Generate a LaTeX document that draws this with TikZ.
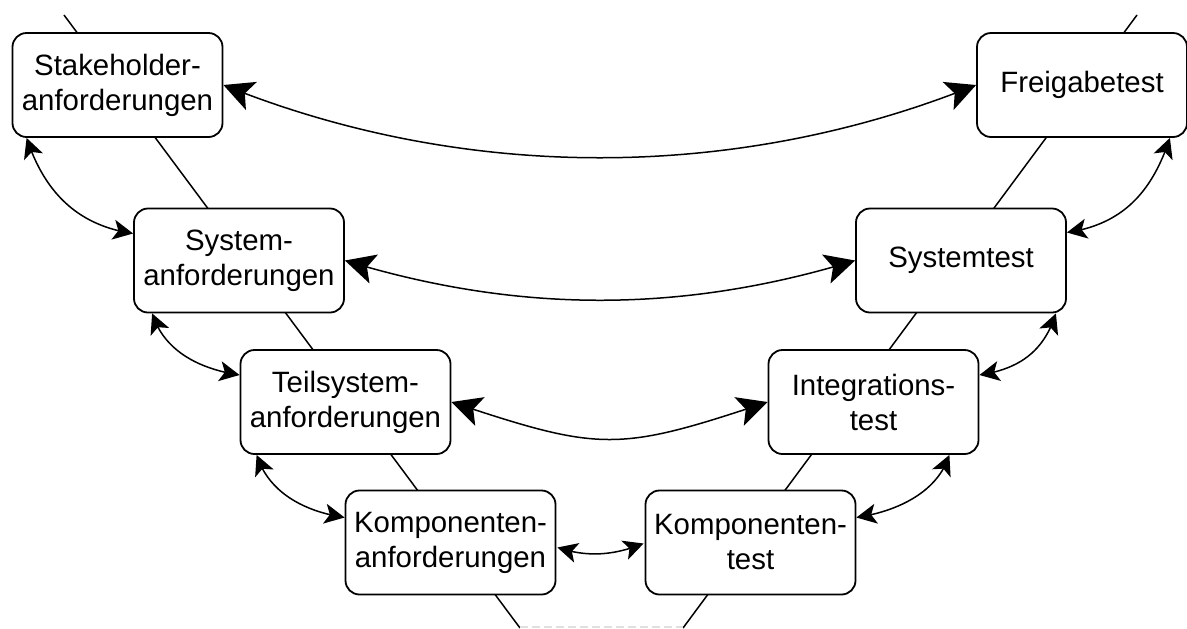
\documentclass[tikz,border=0pt]{standalone}
\usepackage{fontspec}
\setmainfont{Liberation Sans}
\usetikzlibrary{arrows.meta,bending,calc}

\tikzset{
  stage/.style={draw, line width=0.9pt, rounded corners=7pt, fill=white,
    minimum width=105pt, minimum height=52pt, inner sep=0pt, align=center,
    font=\fontsize{14.7pt}{17.5pt}\selectfont},
  vline/.style={line width=0.75pt},
  bigarrow/.style={line width=0.75pt,
    {Stealth[length=15pt,width=15pt,inset=3.5pt]}-{Stealth[length=15pt,width=15pt,inset=3.5pt]}},
  smallarrow/.style={line width=0.75pt,
    {Stealth[length=10pt,width=10pt,inset=2.5pt]}-{Stealth[length=10pt,width=10pt,inset=2.5pt]}},
  cutline/.style={line width=0.75pt, draw=black!12, dash pattern=on 4pt off 2pt}
}

\begin{document}
\begin{tikzpicture}[x=0.5pt,y=-0.5pt]
  \useasboundingbox (0,0) rectangle (1187,628);

  % the two legs of the V behind the stages
  \coordinate (vtl) at (64,15);
  \coordinate (vbl) at (520,628);
  \coordinate (vtr) at (1137,15);
  \coordinate (vbr) at (683,628);
  \draw[vline] (vtl) -- (vbl);
  \draw[vline] (vtr) -- (vbr);
  \coordinate (cutl) at (520,627);
  \coordinate (cutr) at (683,627);
  \draw[cutline] (cutl) -- (cutr);

  % specification side
  \node[stage] (sh) at (117.5,85) {Stakeholder-\\anforderungen};
  \node[stage] (sa) at (239,260.5) {System-\\anforderungen};
  \node[stage] (ta) at (345.5,402) {Teilsystem-\\anforderungen};
  \node[stage] (ka) at (450.5,542.5) {Komponenten-\\anforderungen};

  % test side
  \node[stage] (fg) at (1082,85) {Freigabetest};
  \node[stage] (st) at (961,260.5) {Systemtest};
  \node[stage] (it) at (873.5,402) {Integrations-\\test};
  \node[stage] (kt) at (750.5,542.5) {Komponenten-\\test};

  % level links between both sides
  \draw[bigarrow] (sh.east) .. controls +(240,97) and +(-240,97) .. (fg.west);
  \draw[bigarrow] (sa.east) .. controls +(173,53) and +(-173,53) .. (st.west);
  \draw[bigarrow] (ta.east) .. controls +(150,50) and +(-150,50) .. (it.west);
  \draw[smallarrow] ($(ka.east)+(1,5)$) .. controls +(30,10) and +(-30,12) .. ($(kt.west)+(-1,1)$);

  % refinement links on the left
  \draw[smallarrow] ($(sh.south west)+(15,0)$) .. controls +(18,55) and +(-55,-8) .. ($(sa.west)+(0,-27)$);
  \draw[smallarrow] ($(sa.south west)+(19,0)$) .. controls +(12,38) and +(-40,-6) .. ($(ta.west)+(0,-27)$);
  \draw[smallarrow] ($(ta.south west)+(17,0)$) .. controls +(12,38) and +(-40,-6) .. ($(ka.west)+(0,-25)$);

  % integration links on the right
  \draw[smallarrow] ($(fg.south east)+(-18,0)$) .. controls +(-18,55) and +(55,-8) .. ($(st.east)+(0,-28)$);
  \draw[smallarrow] ($(st.south east)+(-11,0)$) .. controls +(-12,38) and +(40,-6) .. ($(it.east)+(0,-27)$);
  \draw[smallarrow] ($(it.south east)+(-30,0)$) .. controls +(-12,38) and +(40,-6) .. ($(kt.east)+(0,-25)$);
\end{tikzpicture}
\end{document}
